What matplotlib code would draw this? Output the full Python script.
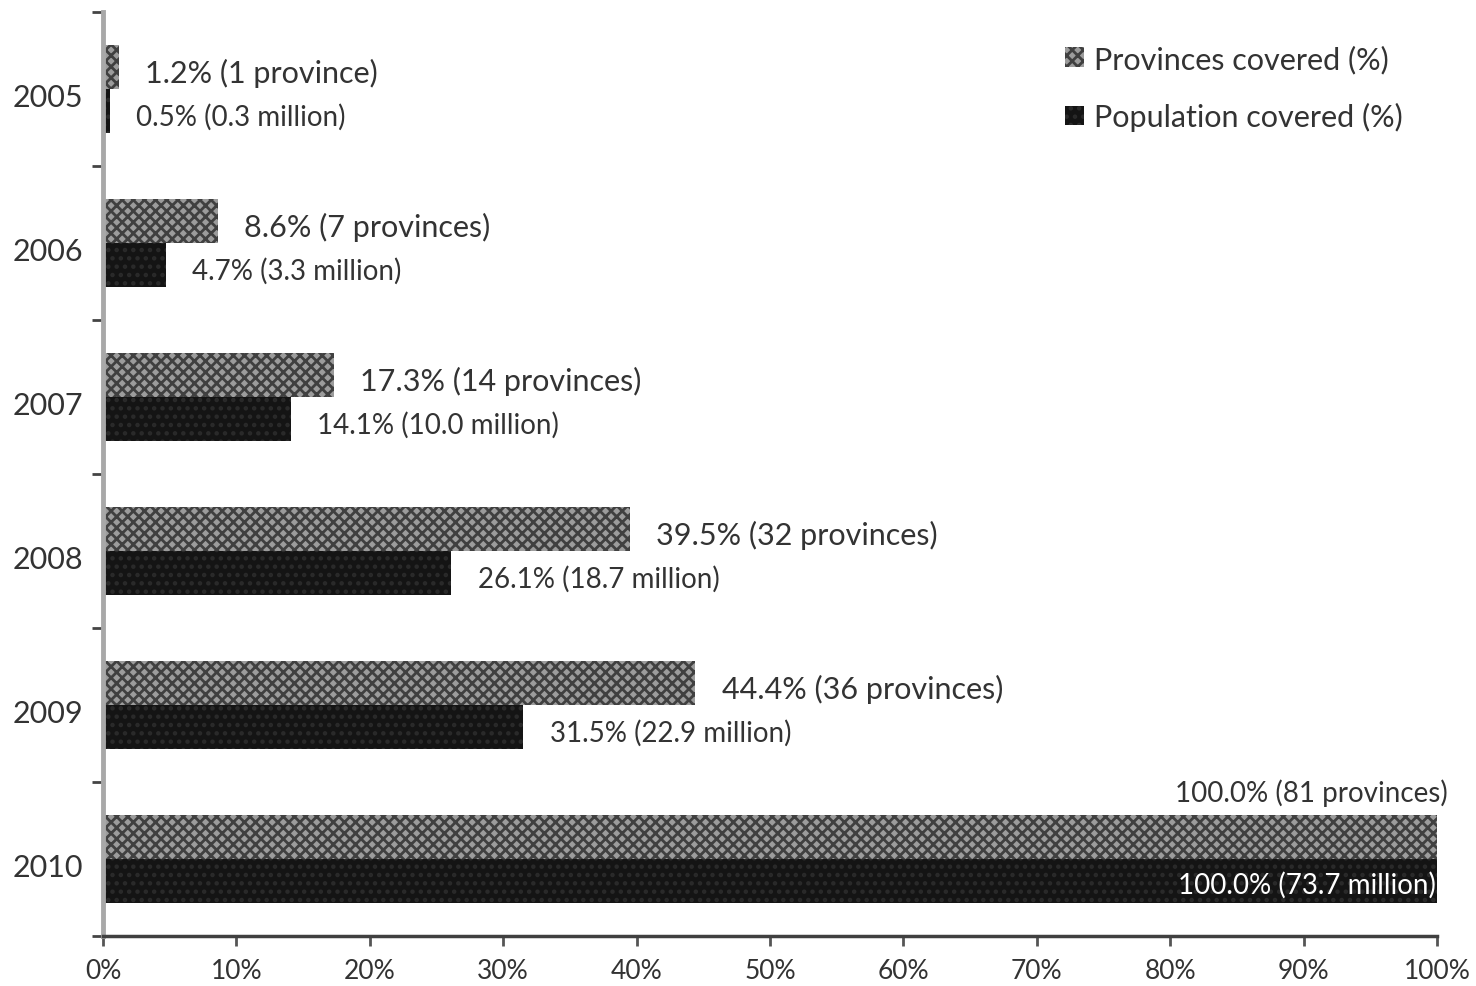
import matplotlib

matplotlib.use("Agg")
import matplotlib.pyplot as plt
import numpy as np
from matplotlib.transforms import ScaledTranslation

years = ["2005", "2006", "2007", "2008", "2009", "2010"]
provinces_pct = [1.2, 8.6, 17.3, 39.5, 44.4, 100.0]
provinces_n = [1, 7, 14, 32, 36, 81]
population_pct = [0.5, 4.7, 14.1, 26.1, 31.5, 100.0]
population_mn = [0.3, 3.3, 10.0, 18.7, 22.9, 73.7]
x_ticks = [0, 10, 20, 30, 40, 50, 60, 70, 80, 90, 100]

plt.rcParams["font.family"] = ["Lato", "DejaVu Sans"]
plt.rcParams["hatch.linewidth"] = 2.0

W, H = 1476, 987
fig = plt.figure(figsize=(W / 100, H / 100), dpi=100)
ax = fig.add_axes([103 / W, 50 / H, 1334 / W, 924 / H])

y = np.arange(len(years))
bar_h = 0.286
prov_y = y - bar_h / 2
pop_y = y + bar_h / 2

ax.barh(prov_y, provinces_pct, height=bar_h, color="#9c9c9c", hatch="xxx",
        edgecolor="#404040", linewidth=0, label="Provinces covered (%)")
ax.barh(pop_y, population_pct, height=bar_h, color="#141414", hatch="..",
        edgecolor="#2a2a2a", linewidth=0, label="Population covered (%)")

ax.set_xlim(0, 100)
ax.set_ylim(len(years) - 0.5, -0.5)

# value labels next to each bar
text_color = "#333333"
for i in range(len(years) - 1):
    unit = "province" if provinces_n[i] == 1 else "provinces"
    ax.annotate(f"{provinces_pct[i]:.1f}% ({provinces_n[i]} {unit})",
                xy=(provinces_pct[i], prov_y[i]), xytext=(19, -4),
                textcoords="offset points", ha="left", va="center",
                fontsize=22, color=text_color)
    ax.annotate(f"{population_pct[i]:.1f}% ({population_mn[i]:.1f} million)",
                xy=(population_pct[i], pop_y[i]), xytext=(19, -4),
                textcoords="offset points", ha="left", va="center",
                fontsize=20, color=text_color)

last = len(years) - 1
ax.annotate(f"{provinces_pct[last]:.1f}% ({provinces_n[last]} provinces)",
            xy=(provinces_pct[last], prov_y[last]), xytext=(8, 32),
            textcoords="offset points", ha="right", va="center",
            fontsize=20, color=text_color, annotation_clip=False)
ax.annotate(f"{population_pct[last]:.1f}% ({population_mn[last]:.1f} million)",
            xy=(population_pct[last], pop_y[last]), xytext=(-1, -2),
            textcoords="offset points", ha="right", va="center",
            fontsize=20, color="white")

# axes styling
ax.set_xticks(x_ticks, labels=[f"{t}%" for t in x_ticks])
ax.tick_params(axis="x", length=7, width=2, color="#555555", pad=9,
               labelsize=19, labelcolor=text_color)
ax.set_yticks(y, labels=years)
ax.set_yticks(np.arange(len(years) + 1) - 0.5, minor=True)
ax.tick_params(axis="y", which="major", length=0, pad=14, labelsize=22,
               labelcolor=text_color)
ax.tick_params(axis="y", which="minor", length=8, width=2, color="#444444")
shift = ScaledTranslation(0, -4 / 72, fig.dpi_scale_trans)
for label in ax.get_yticklabels():
    label.set_transform(label.get_transform() + shift)

for side in ("top", "right"):
    ax.spines[side].set_visible(False)
ax.spines["left"].set_color("#a8a8a8")
ax.spines["left"].set_linewidth(3.5)
ax.spines["bottom"].set_color("#404040")
ax.spines["bottom"].set_linewidth(2.5)

ax.legend(loc="upper left", bbox_to_anchor=(1050 / W, 1 - 30 / H),
          bbox_transform=fig.transFigure, frameon=False, fontsize=22,
          handlelength=0.6, handleheight=0.6, handletextpad=0.35,
          labelspacing=0.95, borderpad=0, labelcolor=text_color)

fig.savefig("out.png", dpi=100)
plt.close(fig)
